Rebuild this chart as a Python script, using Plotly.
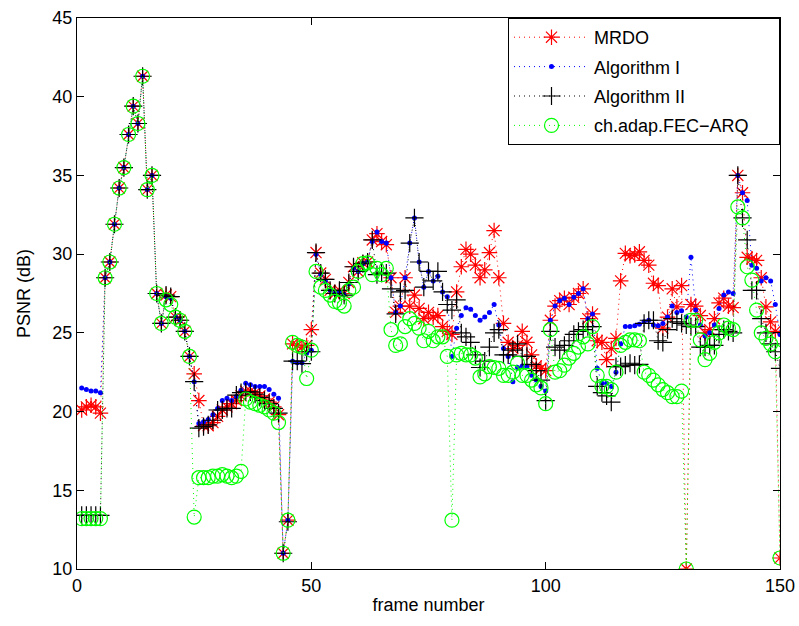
import plotly.graph_objects as go

frames = list(range(1, 151))

peak = [28.5, 29.5, 31.9, 34.2, 35.5, 37.6, 39.4, 38.3, 41.3, 34.1, 35.0, 27.5, 25.6]

mrdo = ([20.1, 20.3, 20.4, 20.3, 19.9] + peak +
        [27.4, 27.3, 26.0, 25.8, 25.1, 23.5, 22.4,
         20.7, 19.1, 19.1, 19.3, 19.7, 20.1, 20.3, 20.5, 20.7, 21.0,
         21.3, 21.3, 21.2, 21.0, 20.8, 20.6, 20.3, 19.8, 11.0, 13.1,
         24.3, 24.2, 24.1, 24.2, 25.2,
         30.1, 28.8, 28.4, 27.7, 27.5, 27.7, 27.5, 28.2, 29.2, 28.9, 29.45, 29.5,
         30.9, 31.3, 30.8, 30.6, 28.5, 26.3, 26.7, 28.5, 26.7, 27.4, 26.55, 25.9, 26.3, 26.0,
         26.1, 25.4, 25.1, 24.9, 27.6, 29.2, 30.3, 30.0, 29.3, 28.5, 29.0, 30.1, 31.5, 28.5,
         25.6, 24.4, 24.0, 24.2, 25.1, 24.4, 23.6, 22.9, 22.75, 22.6, 25.8, 26.7,
         27.05, 27.2, 26.8, 27.26, 27.5, 27.8, 25.9, 26.2, 24.5, 24.4, 23.3, 24.0, 24.65, 28.3,
         30.05, 29.9, 29.95, 30.15, 29.6, 29.3, 28.15, 28.0, 25.3, 26.0, 27.8, 26.65, 28.0, 10.0,
         26.8, 26.7, 26.1, 25.0, 25.2, 25.9, 26.9, 27.2, 26.7, 26.6, 35.0, 33.9, 29.8, 29.7,
         29.6, 28.5, 26.65, 25.7, 25.1, 10.7])

alg1 = ([21.5, 21.4, 21.3, 21.3, 21.2] + peak +
        [27.3, 27.2, 26.0, 25.8, 25.1, 23.5, 21.9,
         19.25, 19.35, 19.5, 19.8, 20.2, 20.7, 20.85, 20.7, 20.95, 21.35,
         21.8, 21.7, 21.6, 21.6, 21.6, 21.4, 21.1, 20.85, 11.0, 13.1,
         23.2, 23.1, 23.1, 23.7, 23.9,
         30.0, 28.7, 28.3, 27.7, 27.5, 27.6, 27.4, 28.1, 29.1, 28.9, 29.4, 29.5,
         30.8, 31.4, 30.8, 30.7, 28.5, 26.3, 26.7, 28.5, 30.7, 32.3, 29.5, 27.9, 28.9, 28.3,
         28.6, 27.6, 27.3, 23.5, 25.3, 26.1, 26.6, 26.5, 26.1, 25.8, 26.0, 26.3, 26.8, 25.5,
         24.0, 23.5, 21.9, 22.8, 22.9, 22.85, 22.3, 22.0, 21.6, 21.3, 25.8, 26.7,
         27.05, 27.2, 26.8, 27.26, 27.5, 27.8, 25.9, 26.2, 22.75, 21.8, 21.8, 21.6, 22.5, 24.3,
         25.4, 25.4, 25.45, 25.55, 25.7, 25.8, 25.5, 25.45, 25.6, 26.0, 26.7, 26.3, 26.4, 26.0,
         29.8, 26.45, 25.5, 24.8, 25.0, 25.5, 26.55, 27.4, 27.6, 27.5, 35.0, 33.9, 33.4, 29.3,
         29.1, 28.3, 28.5, 28.3, 26.8, 24.9])

alg2 = ([13.4, 13.4, 13.4, 13.4, 13.4] + peak +
        [27.4, 27.3, 26.0, 25.8, 25.1, 23.5, 21.9,
         18.95, 19.05, 19.15, 19.45, 20.1, 20.1, 20.2, 20.2, 21.05, 21.2,
         21.25, 21.25, 21.1, 20.9, 20.7, 20.5, 20.2, 19.9, 11.0, 13.0,
         23.2, 23.2, 23.05, 23.8, 23.8,
         30.1, 28.8, 28.4, 27.7, 27.5, 27.7, 27.4, 28.2, 29.2, 28.9, 29.4, 29.5,
         30.9, 28.7, 28.8, 28.8, 27.8, 26.2, 27.6, 27.7, 30.7, 32.3, 29.5, 27.9, 28.9, 28.3,
         28.9, 27.6, 26.8, 26.45, 27.1, 25.0, 24.75, 24.4, 23.6, 22.8, 23.2, 24.1, 25.0, 25.2,
         23.6, 23.6, 23.9, 24.3, 23.5, 23.5, 23.0, 22.6, 22.0, 20.7, 25.1, 24.1,
         23.9, 24.2, 24.5, 24.9, 25.1, 25.2, 25.4, 25.4, 21.6, 21.2, 21.0, 20.6, 22.85, 22.85,
         22.95, 23.07, 22.95, 23.0, 25.6, 25.8, 25.8, 24.5, 24.4, 25.2, 25.9, 25.7, 25.6, 25.5,
         25.4, 25.4, 24.1, 24.1, 24.2, 24.2, 24.9, 25.2, 25.1, 25.0, 35.0, 32.3, 30.9, 27.7,
         27.7, 25.9, 25.0, 24.3, 23.8, 22.75])

fec = ([13.2, 13.2, 13.2, 13.2, 13.2] + peak +
       [27.1, 26.8, 26.0, 25.8, 25.1, 23.5, 13.3,
        15.8, 15.8, 15.8, 15.9, 15.9, 16.0, 15.9, 15.8, 15.9, 16.2,
        20.8, 20.6, 20.5, 20.4, 20.3, 20.1, 19.9, 19.3, 11.0, 13.1,
        24.4, 24.2, 24.1, 22.1, 23.9,
        28.9, 27.9, 27.7, 27.4, 27.0, 26.9, 26.7, 27.7, 27.9, 28.9, 29.4, 29.45,
        28.7, 29.1, 28.7, 29.1, 25.2, 24.2, 24.3, 25.4, 25.9, 25.6, 25.3, 24.5, 25.1, 24.5,
        24.75, 24.75, 23.5, 13.1, 23.6, 23.7, 23.6, 23.6, 23.4, 22.2, 22.4, 22.85, 22.8, 22.75,
        22.3, 22.3, 22.5, 23.07, 22.3, 22.3, 22.0, 21.7, 21.5, 20.5, 25.2, 22.5,
        22.6, 22.95, 23.4, 23.7, 24.1, 24.75, 24.3, 25.4, 22.3, 21.6, 21.6, 21.4, 22.5, 24.2,
        24.4, 24.55, 24.55, 24.5, 22.5, 22.3, 22.0, 21.7, 21.4, 21.2, 20.95, 20.95, 21.3, 10.0,
        25.8, 25.8, 24.55, 23.3, 23.7, 24.4, 25.0, 25.5, 25.3, 25.2, 33.0, 32.3, 29.2, 28.35,
        26.45, 25.0, 24.65, 24.3, 23.8, 10.7])

series_names = ["MRDO", "Algorithm I", "Algorithm II",
                "ch.adap.FEC\u2212ARQ\u00a0\u00a0\u00a0\u00a0\u00a0"]
x_ticks = [0, 50, 100, 150]
y_ticks = [10, 15, 20, 25, 30, 35, 40, 45]

FONT = "Liberation Sans, Arial, Helvetica, sans-serif"

styles = [
    dict(color="#ff0000", symbol="asterisk-open", size=13, lw=1.2),
    dict(color="#0000ff", symbol="circle", size=5, lw=0),
    dict(color="#000000", symbol="cross-thin-open", size=13, lw=1.2),
    dict(color="#00ff00", symbol="circle-open", size=14, lw=1.2),
]

fig = go.Figure()
for i, (name, ys) in enumerate(zip(series_names, [mrdo, alg1, alg2, fec])):
    st = styles[i]
    fig.add_trace(go.Scatter(
        x=frames, y=ys, name=name, mode="lines+markers",
        legendgroup=f"g{i}",
        line=dict(color=st["color"], width=1, dash="1px,4px"),
        marker=dict(symbol=st["symbol"], size=st["size"], color=st["color"],
                    line=dict(color=st["color"], width=st["lw"])),
    ))

axis_common = dict(
    showgrid=False, zeroline=False, showline=True, linecolor="black", linewidth=1,
    mirror="allticks", ticks="inside", ticklen=7, tickcolor="black", tickwidth=1,
    tickfont=dict(family=FONT, size=18, color="black"), automargin=False,
)

fig.update_layout(
    width=799, height=626,
    margin=dict(l=77, r=19, t=18, b=57),
    paper_bgcolor="white", plot_bgcolor="white",
    font=dict(family=FONT, size=18, color="black"),
    xaxis=dict(range=[0, 150], tickvals=x_ticks, ticktext=[str(v) for v in x_ticks],
               title=dict(text="frame number", font=dict(family=FONT, size=18), standoff=3),
               **axis_common),
    yaxis=dict(range=[10, 45], tickvals=y_ticks, ticktext=[str(v) for v in y_ticks],
               title=dict(text="PSNR (dB)", font=dict(family=FONT, size=18), standoff=17),
               **axis_common),
    legend=dict(x=1, y=1, xanchor="right", yanchor="top",
                bgcolor="white", bordercolor="black", borderwidth=1,
                font=dict(family=FONT, size=18, color="black"),
                itemwidth=75, tracegroupgap=3, itemsizing="trace"),
    showlegend=True,
)

fig.write_html(
    "out.html",
    config={"displayModeBar": False},
    post_script="document.body.style.margin='0';document.body.style.overflow='hidden';",
)
